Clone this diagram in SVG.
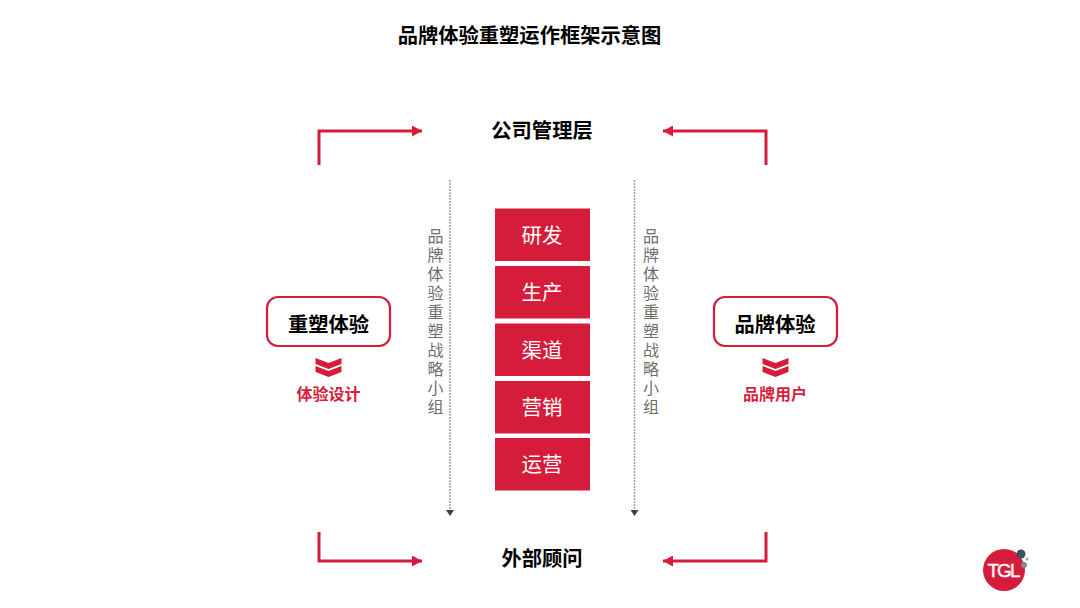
<svg xmlns="http://www.w3.org/2000/svg" width="1080" height="608" viewBox="0 0 1080 608">
<style>
text{font-family:"Noto Sans CJK SC","Noto Sans",sans-serif;text-anchor:middle}
.h{font-size:20.300px;font-weight:700;fill:#000}
.box{fill:#d51c3a}
.bt{font-size:20.500px;fill:#fff;font-weight:400}
.sub{font-size:16px;font-weight:700;fill:#d51c3a}
.v{font-size:16px;fill:#6e6e6e;font-weight:400;writing-mode:vertical-rl;text-anchor:start;letter-spacing:3px}
.r{fill:none;stroke:#d51c3a;stroke-width:3}
.d{fill:none;stroke:#a0a0a0;stroke-width:1.500;stroke-dasharray:2 1}
.pill{fill:#fff;stroke:#d51c3a;stroke-width:2.200}
</style>
<defs>
<marker id="ra" markerUnits="userSpaceOnUse" markerWidth="11" markerHeight="11" refX="10" refY="5.500" orient="auto"><path d="M0 0L10 5.500L0 11Z" fill="#d51c3a"/></marker>
<marker id="ga" markerUnits="userSpaceOnUse" markerWidth="8" markerHeight="8" refX="4" refY="6" orient="0"><path d="M0 0H8L4 6Z" fill="#404040"/></marker>
<path id="chev" d="M-13 0L0 5L13 0V6L0 11L-13 6ZM-13 8L0 13L13 8V14L0 19L-13 14Z" fill="#d51c3a"/>
</defs>
<text id="title" x="529.500" y="43" style="font-size:20.300px;font-weight:700;fill:#000">品牌体验重塑运作框架示意图</text>
<g id="connectors">
<path class="r" d="M319 165V131H422" marker-end="url(#ra)"/>
<path class="r" d="M766 165V131H663" marker-end="url(#ra)"/>
<path class="r" d="M319 532V561H422" marker-end="url(#ra)"/>
<path class="r" d="M766 532V561H663" marker-end="url(#ra)"/>
<path class="d" d="M450 180V516" marker-end="url(#ga)"/>
<path class="d" d="M634.500 180V516" marker-end="url(#ga)"/>
</g>
<g id="n-top"><text class="h" x="542" y="138">公司管理层</text></g>
<g id="n-bottom"><text class="h" x="542" y="566">外部顾问</text></g>
<g id="n-1"><rect class="box" x="495" y="208.500" width="95" height="52.500"/><text class="bt" x="542" y="242.500">研发</text></g>
<g id="n-2"><rect class="box" x="495" y="266" width="95" height="52.500"/><text class="bt" x="542" y="300">生产</text></g>
<g id="n-3"><rect class="box" x="495" y="323.500" width="95" height="52.500"/><text class="bt" x="542" y="357.500">渠道</text></g>
<g id="n-4"><rect class="box" x="495" y="381" width="95" height="52.500"/><text class="bt" x="542" y="415">营销</text></g>
<g id="n-5"><rect class="box" x="495" y="438" width="95" height="52.500"/><text class="bt" x="542" y="472">运营</text></g>
<g id="n-left"><rect class="pill" x="267" y="297" width="123" height="49" rx="11"/><text class="h" x="328.500" y="332">重塑体验</text><use href="#chev" x="328.500" y="358"/><text class="sub" x="328.500" y="400">体验设计</text></g>
<g id="n-right"><rect class="pill" x="714" y="297" width="123" height="49" rx="11"/><text class="h" x="775" y="332">品牌体验</text><use href="#chev" x="775.500" y="358"/><text class="sub" x="775" y="400">品牌用户</text></g>
<text id="n-vl" class="v" x="435.500" y="228">品牌体验重塑战略小组</text>
<text id="n-vr" class="v" x="651" y="228">品牌体验重塑战略小组</text>
<g id="logo">
<circle cx="1004" cy="570" r="21" fill="#d51c3a"/>
<circle cx="1021" cy="554" r="4.500" fill="#3f4f5e"/><circle cx="1024" cy="565" r="3" fill="#7f8b96"/><circle cx="1027" cy="559" r="1.800" fill="#aab8c4"/>
<text x="1003" y="577" style="font-family:'Liberation Sans',sans-serif;font-size:19px;font-weight:400;fill:#fff;letter-spacing:-2px;stroke:#fff;stroke-width:.4">TGL</text>
</g>
</svg>
